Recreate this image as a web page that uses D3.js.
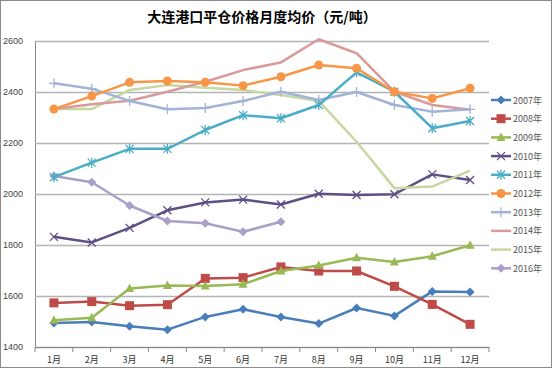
<!DOCTYPE html>
<html><head><meta charset="utf-8">
<script src="https://cdn.jsdelivr.net/npm/d3@7"></script>
<style>body{margin:0;background:#fff}svg{display:block;font-family:"Liberation Sans","DejaVu Sans",sans-serif}</style>
</head><body><svg id="c" width="552" height="368"></svg>
<script>
const months = ["1月","2月","3月","4月","5月","6月","7月","8月","9月","10月","11月","12月"];
const yTicks = [1400,1600,1800,2000,2200,2400,2600];
const years = ["2007年","2008年","2009年","2010年","2011年","2012年","2013年","2014年","2015年","2016年"];
const v2007 = [1494,1498,1481,1468,1518,1548,1518,1492,1553,1522,1618,1616];
const v2008 = [1573,1578,1562,1566,1669,1672,1714,1698,1698,1638,1567,1489];
const v2009 = [1505,1515,1629,1641,1639,1646,1698,1720,1750,1733,1756,1799];
const v2010 = [1832,1810,1867,1936,1967,1978,1959,2001,1996,1999,2077,2055];
const v2011 = [2066,2123,2177,2177,2251,2309,2297,2349,2477,2401,2258,2286];
const v2012 = [2333,2384,2438,2443,2438,2425,2460,2506,2493,2401,2375,2415];
const v2013 = [2434,2413,2365,2332,2337,2365,2401,2369,2400,2349,2323,2332];
const v2014 = [2333,2352,2366,2401,2440,2486,2516,2607,2552,2401,2349,2330];
const v2015 = [2333,2333,2408,2427,2417,2408,2388,2365,2205,2023,2029,2092];
const v2016 = [2071,2046,1955,1894,1885,1852,1891];
const seriesValues = [v2007,v2008,v2009,v2010,v2011,v2012,v2013,v2014,v2015,v2016];
const colors = ["#4a7ebb","#be4b48","#98b954","#5f4f85","#4bacc6","#f79646","#a3b3d8","#d99a9a","#c6d7a0","#aa9fc6"];
const markers = ["diamond","square","triangle","x","asterisk","circle","plus",null,null,"diamond"];

const svg = d3.select("#c");
svg.append("rect").attr("x",0.5).attr("y",0.5).attr("width",551).attr("height",367).attr("fill","#fff").attr("stroke","#8c8c8c");
const L=35,R=489,T=41,B=347;
const x = d3.scaleBand().domain(months).range([L,R]);
const y = d3.scaleLinear().domain([1400,2600]).range([B,T]);

svg.append("text").attr("x",262).attr("y",22).attr("text-anchor","middle")
  .attr("font-size",14).attr("font-weight","bold").attr("fill","#000")
  .attr("font-family","'Noto Sans CJK SC',sans-serif").text("大连港口平仓价格月度均价（元/吨）");

// gridlines
const yAxis = d3.axisLeft(y).tickValues(yTicks).tickSize(-(R-L)).tickFormat(d3.format("d")).tickPadding(12);
const gy = svg.append("g").attr("transform",`translate(${L},0)`).call(yAxis);
gy.select(".domain").attr("stroke","#888").attr("stroke-width",1);
gy.selectAll(".tick line").attr("stroke","#b4b4b4").attr("stroke-width",1.5);
gy.selectAll(".tick text").attr("font-size",9).attr("fill","#444");

const xAxis = d3.axisBottom(x).tickSize(0).tickPadding(10);
const gx = svg.append("g").attr("transform",`translate(0,${B})`).call(xAxis);
gx.select(".domain").attr("stroke","#888");
gx.selectAll(".tick text").attr("font-size",9).attr("fill","#333").attr("font-family","'Noto Sans CJK SC',sans-serif");
gx.selectAll("line.bt").data(d3.range(13)).join("line").attr("class","bt")
  .attr("x1",i=>L+i*x.step()).attr("x2",i=>L+i*x.step()).attr("y1",0).attr("y2",5).attr("stroke","#888");

const line = d3.line().x((d,i)=>x(months[i])+x.bandwidth()/2).y(d=>y(d));

function drawMarker(g,type,cx,cy,col){
  if(type==="diamond") g.append("path").attr("d",`M${cx},${cy-4.5}L${cx+4.5},${cy}L${cx},${cy+4.5}L${cx-4.5},${cy}Z`).attr("fill",col);
  else if(type==="square") g.append("rect").attr("x",cx-4.5).attr("y",cy-4.5).attr("width",9).attr("height",9).attr("fill",col);
  else if(type==="triangle") g.append("path").attr("d",`M${cx},${cy-5}L${cx+4.5},${cy+3.5}L${cx-4.5},${cy+3.5}Z`).attr("fill",col);
  else if(type==="circle") g.append("circle").attr("cx",cx).attr("cy",cy).attr("r",4.5).attr("fill",col);
  else if(type==="x") g.append("path").attr("d",`M${cx-4},${cy-4}L${cx+4},${cy+4}M${cx-4},${cy+4}L${cx+4},${cy-4}`).attr("stroke",col).attr("stroke-width",1.3);
  else if(type==="asterisk") g.append("path").attr("d",`M${cx-4},${cy-4}L${cx+4},${cy+4}M${cx-4},${cy+4}L${cx+4},${cy-4}M${cx},${cy-5}L${cx},${cy+5}`).attr("stroke",col).attr("stroke-width",1.3);
  else if(type==="plus") g.append("path").attr("d",`M${cx-5},${cy}L${cx+5},${cy}M${cx},${cy-5}L${cx},${cy+5}`).attr("stroke",col).attr("stroke-width",1.3);
}

const order=[0,1,2,3,9,8,7,6,4,5];
order.forEach(k=>{
  const vals=seriesValues[k], col=colors[k];
  const g=svg.append("g");
  g.append("path").attr("d",line(vals)).attr("fill","none").attr("stroke",col).attr("stroke-width",2.5).attr("stroke-linejoin","round");
  if(markers[k]) vals.forEach((v,i)=>drawMarker(g,markers[k],x(months[i])+x.bandwidth()/2,y(v),col));
});

// legend
const lg=svg.append("g");
years.forEach((nm,k)=>{
  const yy=100+k*18.7;
  lg.append("line").attr("x1",491).attr("x2",511).attr("y1",yy).attr("y2",yy).attr("stroke",colors[k]).attr("stroke-width",2.5);
  if(markers[k]) drawMarker(lg,markers[k],501,yy,colors[k]);
  lg.append("text").attr("x",513).attr("y",yy+3.5).attr("font-size",9).attr("fill","#555")
    .attr("font-family","'Noto Sans CJK SC',sans-serif").text(nm);
});
</script></body></html>
